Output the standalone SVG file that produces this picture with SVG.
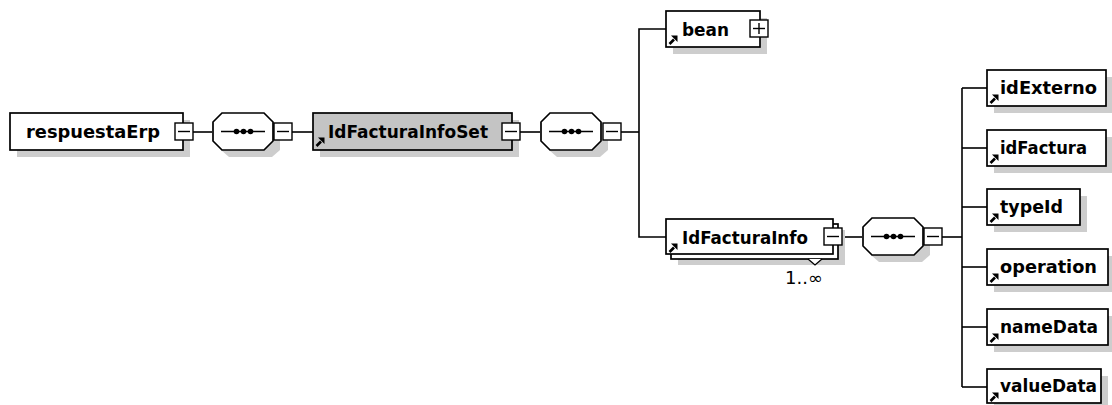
<svg xmlns="http://www.w3.org/2000/svg" width="1112" height="405" viewBox="0 0 1112 405">
<style>
.box{fill:#fff;stroke:#000;stroke-width:1.7}
.gbox{fill:#c4c4c4;stroke:#000;stroke-width:1.7}
.shadow{fill:#cdcdcd}
.ln{fill:none;stroke:#000;stroke-width:1.6}
.lbl{font-family:"DejaVu Sans",sans-serif;font-weight:bold;font-size:17.5px;fill:#000}
.occ{font-family:"DejaVu Sans",sans-serif;font-size:17px;fill:#000}
.btn{fill:#fff;stroke:#000;stroke-width:1.4}
.sym{fill:none;stroke:#000;stroke-width:1.4}
</style>
<defs>
<g id="arrow"><path d="M1.5 9 L6 4.5" stroke="#000" stroke-width="2.6" fill="none"/><path d="M3 0.5 L9.5 0.5 L9.5 7 Z" fill="#000"/></g>
<g id="seq">
<polygon class="shadow" points="17,7 60,7 68,16 68,37 60,44 17,44 9,37 9,16"/>
<polygon class="box" points="10,0 52,0 61,9 61,28 52,37 10,37 1,28 1,9"/>
<line x1="9" y1="18.5" x2="53" y2="18.5" stroke="#000" stroke-width="1.5"/>
<circle cx="24.5" cy="18.5" r="2.8" fill="#000"/><circle cx="31.5" cy="18.5" r="2.8" fill="#000"/><circle cx="38.5" cy="18.5" r="2.8" fill="#000"/>
</g>
<g id="minus"><rect class="btn" x="0" y="0" width="18" height="17"/><line class="sym" x1="3" y1="8.5" x2="15" y2="8.5"/></g>
<g id="plus"><rect class="btn" x="0" y="0" width="18" height="17"/><line class="sym" x1="3" y1="8.5" x2="15" y2="8.5"/><line class="sym" x1="9" y1="3" x2="9" y2="14"/></g>
</defs>

<g id="connectors">
<line class="ln" x1="193" y1="132" x2="212" y2="132"/>
<line class="ln" x1="292" y1="132" x2="313" y2="132"/>
<line class="ln" x1="519" y1="132" x2="540" y2="132"/>
<line class="ln" x1="621" y1="132" x2="639" y2="132"/>
<polyline class="ln" points="666,29 639,29 639,237 666,237"/>
<line class="ln" x1="842" y1="237" x2="862" y2="237"/>
<line class="ln" x1="942" y1="237" x2="962" y2="237"/>
<line class="ln" x1="962" y1="88" x2="962" y2="387"/>
<line class="ln" x1="962" y1="88" x2="987" y2="88"/>
<line class="ln" x1="962" y1="148" x2="987" y2="148"/>
<line class="ln" x1="962" y1="207" x2="987" y2="207"/>
<line class="ln" x1="962" y1="267" x2="987" y2="267"/>
<line class="ln" x1="962" y1="327" x2="987" y2="327"/>
<line class="ln" x1="962" y1="387" x2="987" y2="387"/>
</g>

<g id="respuestaErp">
<rect class="shadow" x="17" y="120" width="173" height="37"/>
<rect class="box" x="10" y="113" width="173" height="37"/>
<text class="lbl" x="26" y="138" textLength="134" lengthAdjust="spacingAndGlyphs">respuestaErp</text>
<use href="#minus" x="175" y="123"/>
</g>

<g id="seq1"><use href="#seq" x="212" y="113"/><use href="#minus" x="274" y="123"/></g>

<g id="IdFacturaInfoSet">
<rect class="shadow" x="320" y="120" width="199" height="37"/>
<rect class="gbox" x="313" y="113" width="199" height="37"/>
<use href="#arrow" x="315" y="137"/>
<text class="lbl" x="328" y="138" textLength="160" lengthAdjust="spacingAndGlyphs">IdFacturaInfoSet</text>
<use href="#minus" x="502" y="123"/>
</g>

<g id="seq2"><use href="#seq" x="540" y="113"/><use href="#minus" x="603" y="123"/></g>

<g id="bean">
<rect class="shadow" x="673" y="18" width="94" height="36"/>
<rect class="box" x="666" y="11" width="94" height="36"/>
<use href="#arrow" x="668" y="35"/>
<text class="lbl" x="682" y="36" textLength="47" lengthAdjust="spacingAndGlyphs">bean</text>
<use href="#plus" x="750" y="20"/>
</g>

<g id="IdFacturaInfo">
<rect class="shadow" x="678" y="230" width="167" height="35"/>
<rect class="box" x="671" y="224" width="167" height="35"/>
<rect class="box" x="666" y="219" width="167" height="35"/>
<use href="#arrow" x="668" y="243"/>
<text class="lbl" x="682" y="244" textLength="126" lengthAdjust="spacingAndGlyphs">IdFacturaInfo</text>
<use href="#minus" x="824" y="228"/>
<polyline points="808,259 815,265 822,259" fill="#fff" stroke="#000" stroke-width="1.3"/>
<text class="occ" x="785" y="284" textLength="38" lengthAdjust="spacingAndGlyphs">1..∞</text>
</g>

<g id="seq3"><use href="#seq" x="862" y="218"/><use href="#minus" x="924" y="228"/></g>

<g id="idExterno">
<rect class="shadow" x="994" y="77" width="119" height="36"/>
<rect class="box" x="987" y="70" width="119" height="36"/>
<use href="#arrow" x="989" y="94"/>
<text class="lbl" x="1000" y="94" textLength="97" lengthAdjust="spacingAndGlyphs">idExterno</text>
</g>

<g id="idFactura">
<rect class="shadow" x="994" y="137" width="119" height="36"/>
<rect class="box" x="987" y="130" width="119" height="36"/>
<use href="#arrow" x="989" y="154"/>
<text class="lbl" x="1000" y="154" textLength="87" lengthAdjust="spacingAndGlyphs">idFactura</text>
</g>

<g id="typeId">
<rect class="shadow" x="994" y="196" width="93" height="36"/>
<rect class="box" x="987" y="189" width="93" height="36"/>
<use href="#arrow" x="989" y="213"/>
<text class="lbl" x="1000" y="213" textLength="63" lengthAdjust="spacingAndGlyphs">typeId</text>
</g>

<g id="operation">
<rect class="shadow" x="994" y="256" width="121" height="36"/>
<rect class="box" x="987" y="249" width="121" height="36"/>
<use href="#arrow" x="989" y="273"/>
<text class="lbl" x="1000" y="273" textLength="97" lengthAdjust="spacingAndGlyphs">operation</text>
</g>

<g id="nameData">
<rect class="shadow" x="994" y="316" width="121" height="36"/>
<rect class="box" x="987" y="309" width="121" height="36"/>
<use href="#arrow" x="989" y="333"/>
<text class="lbl" x="1000" y="333" textLength="98" lengthAdjust="spacingAndGlyphs">nameData</text>
</g>

<g id="valueData">
<rect class="shadow" x="994" y="376" width="114" height="36"/>
<rect class="box" x="987" y="369" width="114" height="34"/>
<use href="#arrow" x="989" y="392"/>
<text class="lbl" x="1000" y="392" textLength="97" lengthAdjust="spacingAndGlyphs">valueData</text>
</g>
</svg>
